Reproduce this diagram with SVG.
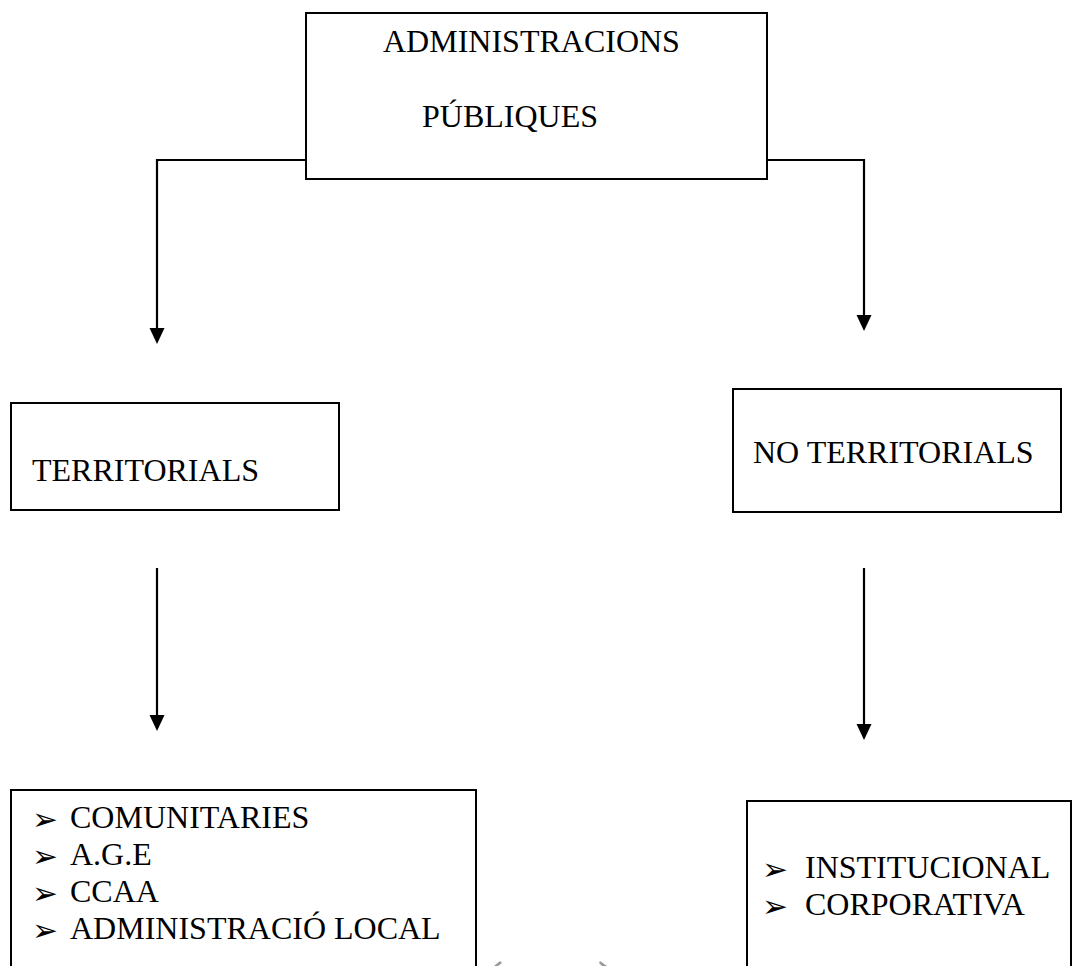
<svg xmlns="http://www.w3.org/2000/svg" width="1074" height="966" viewBox="0 0 1074 966">
<style>
.box{fill:#fff;stroke:#000;stroke-width:2}
.conn{fill:none;stroke:#000;stroke-width:2.2}
.t{font-family:"Liberation Serif","Times New Roman",serif;font-size:32px;fill:#000}
.b{font-family:"DejaVu Sans",sans-serif;font-size:31px;fill:#000}
</style>
<defs>
<marker id="ah" markerUnits="userSpaceOnUse" markerWidth="16" markerHeight="16" refX="8" refY="7.5" orient="auto">
<path d="M0,0 L16,7.5 L0,15 z" fill="#000"/>
</marker>
</defs>
<rect width="1074" height="966" fill="#fff"/>
<g id="connectors">
<path class="conn" d="M306,160 H157 V336" marker-end="url(#ah)"/>
<path class="conn" d="M767,160 H864 V323" marker-end="url(#ah)"/>
<path class="conn" d="M157,568 V723" marker-end="url(#ah)"/>
<path class="conn" d="M864,568 V732" marker-end="url(#ah)"/>
</g>
<g id="admin">
<rect class="box" x="306" y="13" width="461" height="166"/>
<text class="t" x="383" y="52">ADMINISTRACIONS</text>
<text class="t" x="422" y="127">PÚBLIQUES</text>
</g>
<g id="territorials">
<rect class="box" x="11" y="403" width="328" height="107"/>
<text class="t" x="32" y="481">TERRITORIALS</text>
</g>
<g id="noterritorials">
<rect class="box" x="733" y="389" width="328" height="123"/>
<text class="t" x="753" y="463">NO TERRITORIALS</text>
</g>
<g id="territorials-list">
<path class="box" d="M11,970 V790 H476 V970"/>
<text class="b" x="32" y="830">➢</text>
<text class="t" x="70" y="828">COMUNITARIES</text>
<text class="b" x="32" y="867">➢</text>
<text class="t" x="70" y="865">A.G.E</text>
<text class="b" x="32" y="904">➢</text>
<text class="t" x="70" y="902">CCAA</text>
<text class="b" x="32" y="941">➢</text>
<text class="t" x="70" y="939">ADMINISTRACIÓ LOCAL</text>
</g>
<g id="noterritorials-list">
<path class="box" d="M747,970 V801 H1071 V970"/>
<text class="b" x="762" y="880">➢</text>
<text class="t" x="805" y="878">INSTITUCIONAL</text>
<text class="b" x="762" y="917">➢</text>
<text class="t" x="805" y="915">CORPORATIVA</text>
</g>
<g id="artifacts" fill="#999">
<path d="M494,966 L500,961 L502,963 L498,966 z"/>
<path d="M600,961 L607,966 L602,966 L599,963 z"/>
</g>
</svg>
